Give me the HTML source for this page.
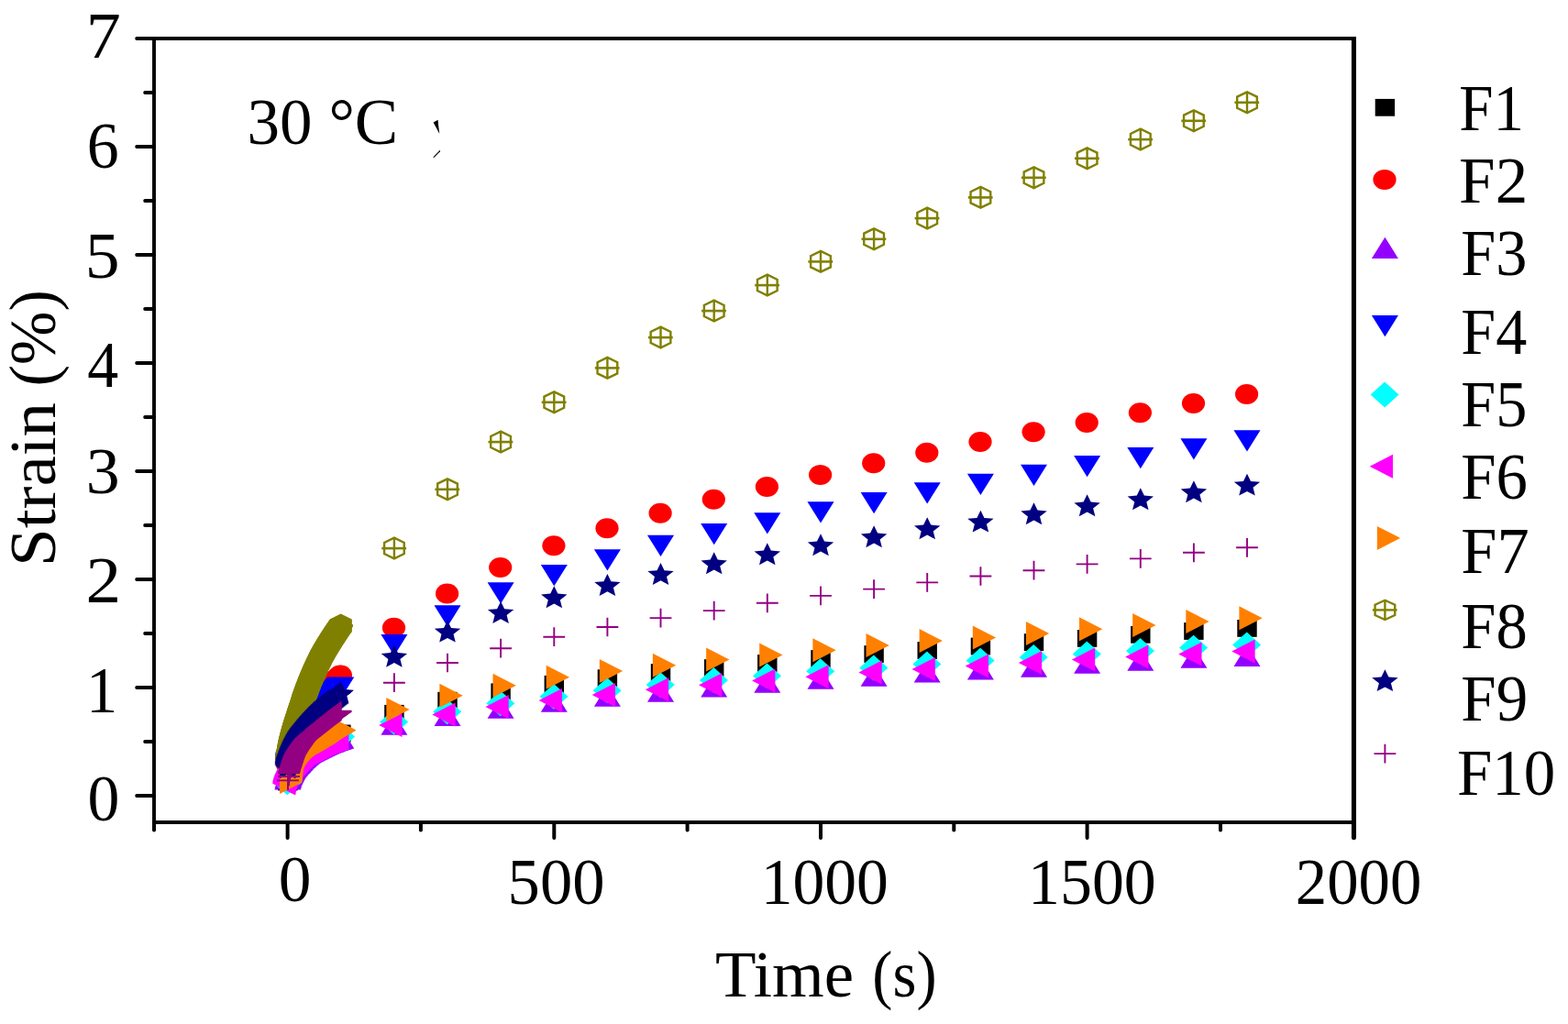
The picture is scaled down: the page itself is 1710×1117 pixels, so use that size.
<!DOCTYPE html>
<html lang="en">
<head>
<meta charset="utf-8">
<title>Strain vs Time at 30 °C</title>
<style>
html,body{margin:0;padding:0;background:#fff;}
body{width:1710px;height:1117px;overflow:hidden;}
svg{display:block;}
</style>
</head>
<body>
<svg width="1710" height="1117" viewBox="0 0 1710 1117" role="img" aria-label="Strain (%) versus Time (s) at 30 °C for samples F1 to F10">
<rect width="1710" height="1117" fill="#ffffff"/>
<defs>
<g id="mF1"><rect x="-10.7" y="-9.4" width="21.4" height="18.8" fill="#000000"/></g>
<g id="mF2"><ellipse cx="-0.4" rx="12.6" ry="11" fill="#ff0000"/></g>
<g id="mF3"><polygon points="-14.5,7.8 14.5,7.8 0,-15.5" fill="#9400ff"/></g>
<g id="mF4"><polygon points="-14.5,-7.6 14.5,-7.6 0,15.6" fill="#0000ff"/></g>
<g id="mF5"><polygon points="-15.8,0 -0.3,-13.9 15.2,0 -0.3,13.9" fill="#00ffff"/></g>
<g id="mF6"><polygon points="-16.7,0 8.6,-13 8.6,13" fill="#ff00ff"/></g>
<g id="mF7"><polygon points="16.7,0 -8.6,-13 -8.6,13" fill="#ff8000"/></g>
<g id="mF8" fill="none" stroke="#808000"><polygon points="0,-11.4 10.85,-6.1 10.85,6.1 0,11.4 -10.85,6.1 -10.85,-6.1" stroke-width="2.4"/><path d="M-13.6,0.1H13.2" stroke-width="2.6"/><path d="M0,-11.5V11.5" stroke-width="2.4"/></g>
<g id="mF9"><polygon points="0.00,-13.20 4.03,-4.91 14.19,-4.08 6.53,1.88 8.77,10.68 0.00,6.07 -8.77,10.68 -6.53,1.88 -14.19,-4.08 -4.03,-4.91" fill="#000080"/></g>
<g id="mF10" fill="none" stroke="#940082" stroke-width="1.9"><path d="M-11.9,0H11.9M0,-10.35V10.35"/></g>
</defs>
<g id="data">
<g id="sF1"><use href="#mF1" x="313.8" y="853.0"/><use href="#mF1" x="313.8" y="852.2"/><use href="#mF1" x="313.8" y="851.1"/><use href="#mF1" x="313.9" y="850.1"/><use href="#mF1" x="313.9" y="849.1"/><use href="#mF1" x="314.0" y="848.2"/><use href="#mF1" x="314.0" y="847.4"/><use href="#mF1" x="314.1" y="846.3"/><use href="#mF1" x="314.1" y="845.5"/><use href="#mF1" x="314.3" y="844.7"/><use href="#mF1" x="314.4" y="843.8"/><use href="#mF1" x="314.6" y="843.0"/><use href="#mF1" x="314.8" y="842.2"/><use href="#mF1" x="315.0" y="841.4"/><use href="#mF1" x="315.3" y="840.7"/><use href="#mF1" x="315.6" y="839.9"/><use href="#mF1" x="316.0" y="839.2"/><use href="#mF1" x="316.3" y="838.4"/><use href="#mF1" x="316.7" y="837.7"/><use href="#mF1" x="317.1" y="837.0"/><use href="#mF1" x="317.5" y="836.3"/><use href="#mF1" x="317.9" y="835.6"/><use href="#mF1" x="318.4" y="834.9"/><use href="#mF1" x="318.9" y="834.3"/><use href="#mF1" x="319.4" y="833.6"/><use href="#mF1" x="319.9" y="833.0"/><use href="#mF1" x="320.5" y="832.4"/><use href="#mF1" x="321.0" y="831.8"/><use href="#mF1" x="321.6" y="831.2"/><use href="#mF1" x="322.1" y="830.7"/><use href="#mF1" x="322.7" y="830.1"/><use href="#mF1" x="323.3" y="829.5"/><use href="#mF1" x="323.9" y="829.0"/><use href="#mF1" x="324.5" y="828.5"/><use href="#mF1" x="325.1" y="828.0"/><use href="#mF1" x="325.8" y="827.4"/><use href="#mF1" x="326.4" y="826.9"/><use href="#mF1" x="327.0" y="826.4"/><use href="#mF1" x="327.7" y="826.0"/><use href="#mF1" x="328.4" y="825.6"/><use href="#mF1" x="329.1" y="825.2"/><use href="#mF1" x="329.8" y="824.8"/><use href="#mF1" x="330.5" y="824.4"/><use href="#mF1" x="331.2" y="824.0"/><use href="#mF1" x="331.9" y="823.6"/><use href="#mF1" x="332.6" y="823.2"/><use href="#mF1" x="333.3" y="822.8"/><use href="#mF1" x="334.0" y="822.4"/><use href="#mF1" x="334.7" y="822.0"/><use href="#mF1" x="335.4" y="821.6"/><use href="#mF1" x="336.1" y="821.2"/><use href="#mF1" x="336.9" y="820.8"/><use href="#mF1" x="337.6" y="820.5"/><use href="#mF1" x="338.3" y="820.1"/><use href="#mF1" x="339.0" y="819.7"/><use href="#mF1" x="339.7" y="819.3"/><use href="#mF1" x="340.3" y="818.8"/><use href="#mF1" x="341.0" y="818.4"/><use href="#mF1" x="341.7" y="817.9"/><use href="#mF1" x="342.4" y="817.5"/><use href="#mF1" x="343.1" y="817.1"/><use href="#mF1" x="343.8" y="816.6"/><use href="#mF1" x="344.4" y="816.2"/><use href="#mF1" x="345.1" y="815.8"/><use href="#mF1" x="345.8" y="815.4"/><use href="#mF1" x="346.5" y="815.0"/><use href="#mF1" x="347.2" y="814.5"/><use href="#mF1" x="347.9" y="814.1"/><use href="#mF1" x="348.6" y="813.7"/><use href="#mF1" x="349.3" y="813.3"/><use href="#mF1" x="350.0" y="812.9"/><use href="#mF1" x="350.7" y="812.5"/><use href="#mF1" x="351.3" y="812.0"/><use href="#mF1" x="352.0" y="811.6"/><use href="#mF1" x="352.7" y="811.1"/><use href="#mF1" x="353.4" y="810.7"/><use href="#mF1" x="354.1" y="810.3"/><use href="#mF1" x="354.8" y="809.9"/><use href="#mF1" x="355.4" y="809.4"/><use href="#mF1" x="356.1" y="809.0"/><use href="#mF1" x="356.8" y="808.6"/><use href="#mF1" x="357.5" y="808.2"/><use href="#mF1" x="358.2" y="807.8"/><use href="#mF1" x="358.9" y="807.3"/><use href="#mF1" x="359.6" y="806.9"/><use href="#mF1" x="360.3" y="806.5"/><use href="#mF1" x="361.0" y="806.1"/><use href="#mF1" x="361.7" y="805.7"/><use href="#mF1" x="362.4" y="805.3"/><use href="#mF1" x="363.1" y="804.9"/><use href="#mF1" x="363.8" y="804.5"/><use href="#mF1" x="364.5" y="804.1"/><use href="#mF1" x="365.2" y="803.7"/><use href="#mF1" x="365.9" y="803.3"/><use href="#mF1" x="366.6" y="802.9"/><use href="#mF1" x="367.3" y="802.5"/><use href="#mF1" x="368.0" y="802.1"/><use href="#mF1" x="368.8" y="801.7"/><use href="#mF1" x="369.5" y="801.4"/><use href="#mF1" x="370.2" y="801.0"/><use href="#mF1" x="370.9" y="800.6"/><use href="#mF1" x="371.6" y="800.2"/><use href="#mF1" x="371.7" y="800.1"/><use href="#mF1" x="429.9" y="778.3"/><use href="#mF1" x="488.0" y="764.2"/><use href="#mF1" x="546.1" y="754.8"/><use href="#mF1" x="604.3" y="746.3"/><use href="#mF1" x="662.4" y="739.7"/><use href="#mF1" x="720.5" y="733.5"/><use href="#mF1" x="778.7" y="728.6"/><use href="#mF1" x="836.8" y="723.5"/><use href="#mF1" x="895.0" y="718.5"/><use href="#mF1" x="953.1" y="713.5"/><use href="#mF1" x="1011.2" y="709.5"/><use href="#mF1" x="1069.4" y="705.0"/><use href="#mF1" x="1127.5" y="700.6"/><use href="#mF1" x="1185.6" y="696.4"/><use href="#mF1" x="1243.8" y="692.3"/><use href="#mF1" x="1301.9" y="688.5"/><use href="#mF1" x="1360.0" y="685.4"/></g>
<g id="sF2"><use href="#mF2" x="314.1" y="834.4"/><use href="#mF2" x="314.2" y="833.5"/><use href="#mF2" x="314.3" y="832.7"/><use href="#mF2" x="314.4" y="831.9"/><use href="#mF2" x="314.6" y="831.1"/><use href="#mF2" x="314.7" y="830.2"/><use href="#mF2" x="314.9" y="829.4"/><use href="#mF2" x="315.1" y="828.6"/><use href="#mF2" x="315.2" y="827.8"/><use href="#mF2" x="315.4" y="827.0"/><use href="#mF2" x="315.6" y="826.2"/><use href="#mF2" x="315.9" y="825.4"/><use href="#mF2" x="316.1" y="824.6"/><use href="#mF2" x="316.3" y="823.8"/><use href="#mF2" x="316.5" y="823.1"/><use href="#mF2" x="316.7" y="822.3"/><use href="#mF2" x="316.9" y="821.5"/><use href="#mF2" x="317.2" y="820.7"/><use href="#mF2" x="317.4" y="819.9"/><use href="#mF2" x="317.6" y="819.1"/><use href="#mF2" x="317.9" y="818.3"/><use href="#mF2" x="318.1" y="817.5"/><use href="#mF2" x="318.4" y="816.7"/><use href="#mF2" x="318.6" y="816.0"/><use href="#mF2" x="318.9" y="815.2"/><use href="#mF2" x="319.2" y="814.4"/><use href="#mF2" x="319.4" y="813.6"/><use href="#mF2" x="319.7" y="812.9"/><use href="#mF2" x="320.0" y="812.1"/><use href="#mF2" x="320.3" y="811.3"/><use href="#mF2" x="320.5" y="810.5"/><use href="#mF2" x="320.8" y="809.7"/><use href="#mF2" x="321.1" y="809.0"/><use href="#mF2" x="321.4" y="808.2"/><use href="#mF2" x="321.7" y="807.4"/><use href="#mF2" x="322.0" y="806.7"/><use href="#mF2" x="322.3" y="805.9"/><use href="#mF2" x="322.6" y="805.1"/><use href="#mF2" x="322.9" y="804.4"/><use href="#mF2" x="323.2" y="803.6"/><use href="#mF2" x="323.6" y="802.9"/><use href="#mF2" x="323.9" y="802.1"/><use href="#mF2" x="324.3" y="801.4"/><use href="#mF2" x="324.6" y="800.6"/><use href="#mF2" x="325.0" y="799.9"/><use href="#mF2" x="325.3" y="799.2"/><use href="#mF2" x="325.7" y="798.4"/><use href="#mF2" x="326.0" y="797.7"/><use href="#mF2" x="326.4" y="797.0"/><use href="#mF2" x="326.8" y="796.3"/><use href="#mF2" x="327.1" y="795.5"/><use href="#mF2" x="327.5" y="794.8"/><use href="#mF2" x="327.9" y="794.1"/><use href="#mF2" x="328.3" y="793.4"/><use href="#mF2" x="328.7" y="792.6"/><use href="#mF2" x="329.0" y="791.9"/><use href="#mF2" x="329.4" y="791.2"/><use href="#mF2" x="329.8" y="790.5"/><use href="#mF2" x="330.2" y="789.7"/><use href="#mF2" x="330.6" y="789.0"/><use href="#mF2" x="330.9" y="788.3"/><use href="#mF2" x="331.3" y="787.6"/><use href="#mF2" x="331.7" y="786.9"/><use href="#mF2" x="332.1" y="786.1"/><use href="#mF2" x="332.5" y="785.4"/><use href="#mF2" x="333.0" y="784.7"/><use href="#mF2" x="333.4" y="784.0"/><use href="#mF2" x="333.8" y="783.3"/><use href="#mF2" x="334.2" y="782.6"/><use href="#mF2" x="334.6" y="781.9"/><use href="#mF2" x="335.1" y="781.3"/><use href="#mF2" x="335.5" y="780.6"/><use href="#mF2" x="335.9" y="779.9"/><use href="#mF2" x="336.4" y="779.2"/><use href="#mF2" x="336.8" y="778.5"/><use href="#mF2" x="337.3" y="777.8"/><use href="#mF2" x="337.7" y="777.2"/><use href="#mF2" x="338.2" y="776.5"/><use href="#mF2" x="338.6" y="775.8"/><use href="#mF2" x="339.1" y="775.1"/><use href="#mF2" x="339.5" y="774.5"/><use href="#mF2" x="340.0" y="773.8"/><use href="#mF2" x="340.5" y="773.1"/><use href="#mF2" x="340.9" y="772.5"/><use href="#mF2" x="341.4" y="771.8"/><use href="#mF2" x="341.9" y="771.1"/><use href="#mF2" x="342.4" y="770.5"/><use href="#mF2" x="342.8" y="769.8"/><use href="#mF2" x="343.3" y="769.1"/><use href="#mF2" x="343.8" y="768.5"/><use href="#mF2" x="344.3" y="767.8"/><use href="#mF2" x="344.7" y="767.2"/><use href="#mF2" x="345.2" y="766.5"/><use href="#mF2" x="345.7" y="765.9"/><use href="#mF2" x="346.2" y="765.2"/><use href="#mF2" x="346.7" y="764.5"/><use href="#mF2" x="347.2" y="763.9"/><use href="#mF2" x="347.7" y="763.3"/><use href="#mF2" x="348.1" y="762.6"/><use href="#mF2" x="348.6" y="762.0"/><use href="#mF2" x="349.1" y="761.3"/><use href="#mF2" x="349.6" y="760.7"/><use href="#mF2" x="350.2" y="760.0"/><use href="#mF2" x="350.7" y="759.4"/><use href="#mF2" x="351.2" y="758.8"/><use href="#mF2" x="351.7" y="758.1"/><use href="#mF2" x="352.2" y="757.5"/><use href="#mF2" x="352.7" y="756.9"/><use href="#mF2" x="353.2" y="756.2"/><use href="#mF2" x="353.7" y="755.6"/><use href="#mF2" x="354.2" y="755.0"/><use href="#mF2" x="354.8" y="754.4"/><use href="#mF2" x="355.3" y="753.7"/><use href="#mF2" x="355.8" y="753.1"/><use href="#mF2" x="356.4" y="752.5"/><use href="#mF2" x="356.9" y="751.9"/><use href="#mF2" x="357.4" y="751.3"/><use href="#mF2" x="358.0" y="750.7"/><use href="#mF2" x="358.5" y="750.1"/><use href="#mF2" x="359.1" y="749.5"/><use href="#mF2" x="359.6" y="748.9"/><use href="#mF2" x="360.2" y="748.3"/><use href="#mF2" x="360.7" y="747.7"/><use href="#mF2" x="361.3" y="747.1"/><use href="#mF2" x="361.8" y="746.6"/><use href="#mF2" x="362.4" y="746.0"/><use href="#mF2" x="363.0" y="745.4"/><use href="#mF2" x="363.5" y="744.8"/><use href="#mF2" x="364.1" y="744.2"/><use href="#mF2" x="364.6" y="743.6"/><use href="#mF2" x="365.2" y="743.0"/><use href="#mF2" x="365.8" y="742.5"/><use href="#mF2" x="366.3" y="741.9"/><use href="#mF2" x="366.9" y="741.3"/><use href="#mF2" x="367.5" y="740.7"/><use href="#mF2" x="368.1" y="740.2"/><use href="#mF2" x="368.6" y="739.6"/><use href="#mF2" x="369.2" y="739.0"/><use href="#mF2" x="369.8" y="738.4"/><use href="#mF2" x="370.4" y="737.9"/><use href="#mF2" x="370.9" y="737.3"/><use href="#mF2" x="371.5" y="736.8"/><use href="#mF2" x="371.7" y="736.5"/><use href="#mF2" x="429.9" y="684.8"/><use href="#mF2" x="488.0" y="647.5"/><use href="#mF2" x="546.1" y="619.0"/><use href="#mF2" x="604.3" y="595.3"/><use href="#mF2" x="662.4" y="576.3"/><use href="#mF2" x="720.5" y="559.7"/><use href="#mF2" x="778.7" y="544.7"/><use href="#mF2" x="836.8" y="531.0"/><use href="#mF2" x="895.0" y="518.0"/><use href="#mF2" x="953.1" y="505.3"/><use href="#mF2" x="1011.2" y="493.7"/><use href="#mF2" x="1069.4" y="482.0"/><use href="#mF2" x="1127.5" y="471.3"/><use href="#mF2" x="1185.6" y="461.0"/><use href="#mF2" x="1243.8" y="450.3"/><use href="#mF2" x="1301.9" y="440.0"/><use href="#mF2" x="1360.0" y="430.0"/></g>
<g id="sF3"><use href="#mF3" x="313.8" y="853.8"/><use href="#mF3" x="314.0" y="853.0"/><use href="#mF3" x="314.2" y="852.2"/><use href="#mF3" x="314.4" y="851.4"/><use href="#mF3" x="314.6" y="850.6"/><use href="#mF3" x="314.9" y="849.9"/><use href="#mF3" x="315.2" y="849.1"/><use href="#mF3" x="315.5" y="848.3"/><use href="#mF3" x="315.9" y="847.6"/><use href="#mF3" x="316.2" y="846.9"/><use href="#mF3" x="316.6" y="846.1"/><use href="#mF3" x="317.0" y="845.4"/><use href="#mF3" x="317.3" y="844.7"/><use href="#mF3" x="317.7" y="844.0"/><use href="#mF3" x="318.1" y="843.2"/><use href="#mF3" x="318.5" y="842.5"/><use href="#mF3" x="318.9" y="841.8"/><use href="#mF3" x="319.3" y="841.1"/><use href="#mF3" x="319.8" y="840.5"/><use href="#mF3" x="320.3" y="839.8"/><use href="#mF3" x="320.8" y="839.2"/><use href="#mF3" x="321.3" y="838.6"/><use href="#mF3" x="321.8" y="837.9"/><use href="#mF3" x="322.4" y="837.3"/><use href="#mF3" x="322.9" y="836.7"/><use href="#mF3" x="323.5" y="836.2"/><use href="#mF3" x="324.0" y="835.6"/><use href="#mF3" x="324.6" y="835.0"/><use href="#mF3" x="325.1" y="834.4"/><use href="#mF3" x="325.6" y="833.8"/><use href="#mF3" x="326.2" y="833.2"/><use href="#mF3" x="326.7" y="832.6"/><use href="#mF3" x="327.3" y="832.0"/><use href="#mF3" x="327.8" y="831.4"/><use href="#mF3" x="328.4" y="830.8"/><use href="#mF3" x="329.0" y="830.3"/><use href="#mF3" x="329.6" y="829.7"/><use href="#mF3" x="330.1" y="829.1"/><use href="#mF3" x="330.8" y="828.6"/><use href="#mF3" x="331.4" y="828.0"/><use href="#mF3" x="332.0" y="827.5"/><use href="#mF3" x="332.6" y="827.0"/><use href="#mF3" x="333.2" y="826.5"/><use href="#mF3" x="333.8" y="826.0"/><use href="#mF3" x="334.5" y="825.4"/><use href="#mF3" x="335.1" y="824.9"/><use href="#mF3" x="335.8" y="824.5"/><use href="#mF3" x="336.5" y="824.1"/><use href="#mF3" x="337.2" y="823.7"/><use href="#mF3" x="337.9" y="823.3"/><use href="#mF3" x="338.6" y="823.0"/><use href="#mF3" x="339.3" y="822.6"/><use href="#mF3" x="340.0" y="822.2"/><use href="#mF3" x="340.8" y="821.8"/><use href="#mF3" x="341.5" y="821.5"/><use href="#mF3" x="342.2" y="821.1"/><use href="#mF3" x="342.9" y="820.7"/><use href="#mF3" x="343.7" y="820.4"/><use href="#mF3" x="344.4" y="820.0"/><use href="#mF3" x="345.1" y="819.7"/><use href="#mF3" x="345.8" y="819.3"/><use href="#mF3" x="346.5" y="819.0"/><use href="#mF3" x="347.3" y="818.6"/><use href="#mF3" x="348.0" y="818.3"/><use href="#mF3" x="348.7" y="817.9"/><use href="#mF3" x="349.4" y="817.5"/><use href="#mF3" x="350.2" y="817.2"/><use href="#mF3" x="350.9" y="816.9"/><use href="#mF3" x="351.6" y="816.5"/><use href="#mF3" x="352.4" y="816.2"/><use href="#mF3" x="353.1" y="815.8"/><use href="#mF3" x="353.8" y="815.5"/><use href="#mF3" x="354.6" y="815.1"/><use href="#mF3" x="355.3" y="814.8"/><use href="#mF3" x="356.0" y="814.5"/><use href="#mF3" x="356.8" y="814.2"/><use href="#mF3" x="357.5" y="813.8"/><use href="#mF3" x="358.3" y="813.5"/><use href="#mF3" x="359.0" y="813.2"/><use href="#mF3" x="359.8" y="812.9"/><use href="#mF3" x="360.5" y="812.7"/><use href="#mF3" x="361.3" y="812.4"/><use href="#mF3" x="362.0" y="812.1"/><use href="#mF3" x="362.8" y="811.8"/><use href="#mF3" x="363.5" y="811.5"/><use href="#mF3" x="364.3" y="811.3"/><use href="#mF3" x="365.0" y="811.0"/><use href="#mF3" x="365.8" y="810.7"/><use href="#mF3" x="366.6" y="810.4"/><use href="#mF3" x="367.3" y="810.2"/><use href="#mF3" x="368.1" y="809.9"/><use href="#mF3" x="368.9" y="809.6"/><use href="#mF3" x="369.6" y="809.4"/><use href="#mF3" x="370.4" y="809.1"/><use href="#mF3" x="371.2" y="808.8"/><use href="#mF3" x="371.7" y="808.6"/><use href="#mF3" x="429.9" y="793.9"/><use href="#mF3" x="488.0" y="784.1"/><use href="#mF3" x="546.1" y="776.0"/><use href="#mF3" x="604.3" y="768.9"/><use href="#mF3" x="662.4" y="762.9"/><use href="#mF3" x="720.5" y="757.9"/><use href="#mF3" x="778.7" y="752.8"/><use href="#mF3" x="836.8" y="747.9"/><use href="#mF3" x="895.0" y="744.0"/><use href="#mF3" x="953.1" y="741.0"/><use href="#mF3" x="1011.2" y="736.8"/><use href="#mF3" x="1069.4" y="733.8"/><use href="#mF3" x="1127.5" y="730.9"/><use href="#mF3" x="1185.6" y="727.0"/><use href="#mF3" x="1243.8" y="724.0"/><use href="#mF3" x="1301.9" y="721.0"/><use href="#mF3" x="1360.0" y="719.1"/></g>
<g id="sF4"><use href="#mF4" x="314.1" y="839.7"/><use href="#mF4" x="314.1" y="838.5"/><use href="#mF4" x="314.2" y="837.4"/><use href="#mF4" x="314.2" y="836.3"/><use href="#mF4" x="314.2" y="835.3"/><use href="#mF4" x="314.3" y="834.3"/><use href="#mF4" x="314.3" y="833.3"/><use href="#mF4" x="314.4" y="832.4"/><use href="#mF4" x="314.4" y="831.5"/><use href="#mF4" x="314.5" y="830.6"/><use href="#mF4" x="314.5" y="829.7"/><use href="#mF4" x="314.6" y="828.9"/><use href="#mF4" x="314.8" y="828.1"/><use href="#mF4" x="315.1" y="827.3"/><use href="#mF4" x="315.4" y="826.6"/><use href="#mF4" x="315.8" y="825.8"/><use href="#mF4" x="316.1" y="825.1"/><use href="#mF4" x="316.5" y="824.4"/><use href="#mF4" x="316.8" y="823.6"/><use href="#mF4" x="317.0" y="822.9"/><use href="#mF4" x="317.3" y="822.1"/><use href="#mF4" x="317.6" y="821.3"/><use href="#mF4" x="317.9" y="820.6"/><use href="#mF4" x="318.2" y="819.8"/><use href="#mF4" x="318.6" y="819.1"/><use href="#mF4" x="318.9" y="818.3"/><use href="#mF4" x="319.3" y="817.6"/><use href="#mF4" x="319.6" y="816.8"/><use href="#mF4" x="319.9" y="816.1"/><use href="#mF4" x="320.2" y="815.3"/><use href="#mF4" x="320.5" y="814.6"/><use href="#mF4" x="320.9" y="813.8"/><use href="#mF4" x="321.2" y="813.1"/><use href="#mF4" x="321.5" y="812.3"/><use href="#mF4" x="321.9" y="811.6"/><use href="#mF4" x="322.3" y="810.8"/><use href="#mF4" x="322.6" y="810.1"/><use href="#mF4" x="323.0" y="809.4"/><use href="#mF4" x="323.3" y="808.7"/><use href="#mF4" x="323.7" y="807.9"/><use href="#mF4" x="324.1" y="807.2"/><use href="#mF4" x="324.4" y="806.5"/><use href="#mF4" x="324.8" y="805.7"/><use href="#mF4" x="325.2" y="805.0"/><use href="#mF4" x="325.5" y="804.3"/><use href="#mF4" x="325.9" y="803.6"/><use href="#mF4" x="326.3" y="802.8"/><use href="#mF4" x="326.7" y="802.1"/><use href="#mF4" x="327.1" y="801.4"/><use href="#mF4" x="327.5" y="800.7"/><use href="#mF4" x="327.9" y="800.0"/><use href="#mF4" x="328.3" y="799.3"/><use href="#mF4" x="328.7" y="798.6"/><use href="#mF4" x="329.1" y="797.9"/><use href="#mF4" x="329.5" y="797.2"/><use href="#mF4" x="329.9" y="796.5"/><use href="#mF4" x="330.4" y="795.8"/><use href="#mF4" x="330.8" y="795.1"/><use href="#mF4" x="331.2" y="794.4"/><use href="#mF4" x="331.6" y="793.7"/><use href="#mF4" x="332.1" y="793.0"/><use href="#mF4" x="332.5" y="792.3"/><use href="#mF4" x="333.0" y="791.6"/><use href="#mF4" x="333.4" y="790.9"/><use href="#mF4" x="333.8" y="790.3"/><use href="#mF4" x="334.3" y="789.6"/><use href="#mF4" x="334.7" y="788.9"/><use href="#mF4" x="335.2" y="788.2"/><use href="#mF4" x="335.6" y="787.5"/><use href="#mF4" x="336.1" y="786.9"/><use href="#mF4" x="336.5" y="786.2"/><use href="#mF4" x="337.0" y="785.5"/><use href="#mF4" x="337.5" y="784.9"/><use href="#mF4" x="337.9" y="784.2"/><use href="#mF4" x="338.4" y="783.5"/><use href="#mF4" x="338.9" y="782.9"/><use href="#mF4" x="339.3" y="782.2"/><use href="#mF4" x="339.8" y="781.5"/><use href="#mF4" x="340.3" y="780.9"/><use href="#mF4" x="340.8" y="780.3"/><use href="#mF4" x="341.3" y="779.6"/><use href="#mF4" x="341.7" y="778.9"/><use href="#mF4" x="342.2" y="778.3"/><use href="#mF4" x="342.7" y="777.6"/><use href="#mF4" x="343.2" y="777.0"/><use href="#mF4" x="343.7" y="776.4"/><use href="#mF4" x="344.2" y="775.7"/><use href="#mF4" x="344.7" y="775.0"/><use href="#mF4" x="345.1" y="774.4"/><use href="#mF4" x="345.6" y="773.8"/><use href="#mF4" x="346.1" y="773.1"/><use href="#mF4" x="346.6" y="772.5"/><use href="#mF4" x="347.1" y="771.8"/><use href="#mF4" x="347.6" y="771.2"/><use href="#mF4" x="348.1" y="770.6"/><use href="#mF4" x="348.6" y="769.9"/><use href="#mF4" x="349.1" y="769.3"/><use href="#mF4" x="349.6" y="768.7"/><use href="#mF4" x="350.2" y="768.0"/><use href="#mF4" x="350.7" y="767.4"/><use href="#mF4" x="351.2" y="766.8"/><use href="#mF4" x="351.7" y="766.2"/><use href="#mF4" x="352.2" y="765.5"/><use href="#mF4" x="352.8" y="764.9"/><use href="#mF4" x="353.3" y="764.3"/><use href="#mF4" x="353.8" y="763.7"/><use href="#mF4" x="354.3" y="763.1"/><use href="#mF4" x="354.9" y="762.5"/><use href="#mF4" x="355.4" y="761.8"/><use href="#mF4" x="356.0" y="761.3"/><use href="#mF4" x="356.5" y="760.7"/><use href="#mF4" x="357.1" y="760.1"/><use href="#mF4" x="357.7" y="759.5"/><use href="#mF4" x="358.2" y="758.9"/><use href="#mF4" x="358.8" y="758.4"/><use href="#mF4" x="359.4" y="757.8"/><use href="#mF4" x="359.9" y="757.2"/><use href="#mF4" x="360.5" y="756.6"/><use href="#mF4" x="361.1" y="756.1"/><use href="#mF4" x="361.7" y="755.5"/><use href="#mF4" x="362.2" y="754.9"/><use href="#mF4" x="362.8" y="754.4"/><use href="#mF4" x="363.4" y="753.8"/><use href="#mF4" x="364.0" y="753.3"/><use href="#mF4" x="364.6" y="752.7"/><use href="#mF4" x="365.2" y="752.1"/><use href="#mF4" x="365.8" y="751.6"/><use href="#mF4" x="366.4" y="751.0"/><use href="#mF4" x="366.9" y="750.5"/><use href="#mF4" x="367.5" y="749.9"/><use href="#mF4" x="368.1" y="749.4"/><use href="#mF4" x="368.7" y="748.8"/><use href="#mF4" x="369.3" y="748.3"/><use href="#mF4" x="369.9" y="747.7"/><use href="#mF4" x="370.5" y="747.2"/><use href="#mF4" x="371.1" y="746.6"/><use href="#mF4" x="371.7" y="746.1"/><use href="#mF4" x="429.9" y="699.6"/><use href="#mF4" x="488.0" y="667.9"/><use href="#mF4" x="546.1" y="642.9"/><use href="#mF4" x="604.3" y="623.6"/><use href="#mF4" x="662.4" y="606.9"/><use href="#mF4" x="720.5" y="591.3"/><use href="#mF4" x="778.7" y="578.6"/><use href="#mF4" x="836.8" y="566.9"/><use href="#mF4" x="895.0" y="554.9"/><use href="#mF4" x="953.1" y="544.6"/><use href="#mF4" x="1011.2" y="533.9"/><use href="#mF4" x="1069.4" y="524.3"/><use href="#mF4" x="1127.5" y="514.3"/><use href="#mF4" x="1185.6" y="504.6"/><use href="#mF4" x="1243.8" y="495.6"/><use href="#mF4" x="1301.9" y="485.9"/><use href="#mF4" x="1360.0" y="476.9"/></g>
<g id="sF5"><use href="#mF5" x="313.6" y="853.4"/><use href="#mF5" x="313.6" y="852.4"/><use href="#mF5" x="313.7" y="851.6"/><use href="#mF5" x="313.8" y="850.8"/><use href="#mF5" x="314.0" y="849.9"/><use href="#mF5" x="314.2" y="849.1"/><use href="#mF5" x="314.4" y="848.3"/><use href="#mF5" x="314.7" y="847.5"/><use href="#mF5" x="315.0" y="846.7"/><use href="#mF5" x="315.2" y="846.0"/><use href="#mF5" x="315.5" y="845.2"/><use href="#mF5" x="315.8" y="844.4"/><use href="#mF5" x="316.1" y="843.7"/><use href="#mF5" x="316.5" y="843.0"/><use href="#mF5" x="316.8" y="842.2"/><use href="#mF5" x="317.2" y="841.5"/><use href="#mF5" x="317.5" y="840.7"/><use href="#mF5" x="317.8" y="840.0"/><use href="#mF5" x="318.2" y="839.3"/><use href="#mF5" x="318.6" y="838.6"/><use href="#mF5" x="319.0" y="837.8"/><use href="#mF5" x="319.4" y="837.2"/><use href="#mF5" x="319.9" y="836.5"/><use href="#mF5" x="320.4" y="835.8"/><use href="#mF5" x="320.9" y="835.2"/><use href="#mF5" x="321.4" y="834.6"/><use href="#mF5" x="321.9" y="833.9"/><use href="#mF5" x="322.5" y="833.3"/><use href="#mF5" x="323.0" y="832.7"/><use href="#mF5" x="323.5" y="832.1"/><use href="#mF5" x="324.1" y="831.5"/><use href="#mF5" x="324.6" y="830.9"/><use href="#mF5" x="325.2" y="830.3"/><use href="#mF5" x="325.7" y="829.7"/><use href="#mF5" x="326.2" y="829.1"/><use href="#mF5" x="326.7" y="828.4"/><use href="#mF5" x="327.3" y="827.8"/><use href="#mF5" x="327.8" y="827.2"/><use href="#mF5" x="328.4" y="826.7"/><use href="#mF5" x="328.9" y="826.1"/><use href="#mF5" x="329.5" y="825.5"/><use href="#mF5" x="330.1" y="824.9"/><use href="#mF5" x="330.7" y="824.4"/><use href="#mF5" x="331.3" y="823.8"/><use href="#mF5" x="331.9" y="823.3"/><use href="#mF5" x="332.5" y="822.8"/><use href="#mF5" x="333.1" y="822.2"/><use href="#mF5" x="333.7" y="821.7"/><use href="#mF5" x="334.3" y="821.2"/><use href="#mF5" x="335.0" y="820.7"/><use href="#mF5" x="335.6" y="820.2"/><use href="#mF5" x="336.3" y="819.8"/><use href="#mF5" x="337.0" y="819.4"/><use href="#mF5" x="337.7" y="819.0"/><use href="#mF5" x="338.4" y="818.6"/><use href="#mF5" x="339.2" y="818.2"/><use href="#mF5" x="339.9" y="817.8"/><use href="#mF5" x="340.6" y="817.5"/><use href="#mF5" x="341.3" y="817.1"/><use href="#mF5" x="342.0" y="816.7"/><use href="#mF5" x="342.7" y="816.3"/><use href="#mF5" x="343.4" y="815.9"/><use href="#mF5" x="344.1" y="815.5"/><use href="#mF5" x="344.8" y="815.1"/><use href="#mF5" x="345.6" y="814.8"/><use href="#mF5" x="346.3" y="814.4"/><use href="#mF5" x="347.0" y="814.0"/><use href="#mF5" x="347.7" y="813.7"/><use href="#mF5" x="348.4" y="813.3"/><use href="#mF5" x="349.1" y="812.9"/><use href="#mF5" x="349.8" y="812.5"/><use href="#mF5" x="350.5" y="812.2"/><use href="#mF5" x="351.3" y="811.8"/><use href="#mF5" x="352.0" y="811.4"/><use href="#mF5" x="352.7" y="811.1"/><use href="#mF5" x="353.5" y="810.7"/><use href="#mF5" x="354.2" y="810.4"/><use href="#mF5" x="354.9" y="810.0"/><use href="#mF5" x="355.6" y="809.7"/><use href="#mF5" x="356.4" y="809.3"/><use href="#mF5" x="357.1" y="809.0"/><use href="#mF5" x="357.8" y="808.6"/><use href="#mF5" x="358.6" y="808.3"/><use href="#mF5" x="359.3" y="808.0"/><use href="#mF5" x="360.1" y="807.7"/><use href="#mF5" x="360.8" y="807.4"/><use href="#mF5" x="361.6" y="807.2"/><use href="#mF5" x="362.3" y="806.9"/><use href="#mF5" x="363.1" y="806.6"/><use href="#mF5" x="363.9" y="806.3"/><use href="#mF5" x="364.6" y="806.0"/><use href="#mF5" x="365.4" y="805.7"/><use href="#mF5" x="366.1" y="805.5"/><use href="#mF5" x="366.9" y="805.2"/><use href="#mF5" x="367.6" y="804.9"/><use href="#mF5" x="368.4" y="804.6"/><use href="#mF5" x="369.1" y="804.4"/><use href="#mF5" x="369.9" y="804.1"/><use href="#mF5" x="370.7" y="803.8"/><use href="#mF5" x="371.4" y="803.6"/><use href="#mF5" x="371.7" y="803.5"/><use href="#mF5" x="429.9" y="787.6"/><use href="#mF5" x="488.0" y="776.3"/><use href="#mF5" x="546.1" y="767.3"/><use href="#mF5" x="604.3" y="759.8"/><use href="#mF5" x="662.4" y="753.2"/><use href="#mF5" x="720.5" y="747.1"/><use href="#mF5" x="778.7" y="742.0"/><use href="#mF5" x="836.8" y="737.3"/><use href="#mF5" x="895.0" y="732.2"/><use href="#mF5" x="953.1" y="728.5"/><use href="#mF5" x="1011.2" y="724.5"/><use href="#mF5" x="1069.4" y="720.6"/><use href="#mF5" x="1127.5" y="716.9"/><use href="#mF5" x="1185.6" y="713.4"/><use href="#mF5" x="1243.8" y="710.0"/><use href="#mF5" x="1301.9" y="706.6"/><use href="#mF5" x="1360.0" y="703.4"/></g>
<g id="sF6"><use href="#mF6" x="313.6" y="854.6"/><use href="#mF6" x="313.6" y="853.7"/><use href="#mF6" x="313.7" y="852.8"/><use href="#mF6" x="313.8" y="852.0"/><use href="#mF6" x="314.0" y="851.2"/><use href="#mF6" x="314.2" y="850.4"/><use href="#mF6" x="314.4" y="849.6"/><use href="#mF6" x="314.7" y="848.8"/><use href="#mF6" x="315.0" y="848.0"/><use href="#mF6" x="315.2" y="847.3"/><use href="#mF6" x="315.5" y="846.5"/><use href="#mF6" x="315.8" y="845.7"/><use href="#mF6" x="316.1" y="845.0"/><use href="#mF6" x="316.5" y="844.3"/><use href="#mF6" x="316.8" y="843.5"/><use href="#mF6" x="317.2" y="842.8"/><use href="#mF6" x="317.5" y="842.0"/><use href="#mF6" x="317.8" y="841.3"/><use href="#mF6" x="318.2" y="840.6"/><use href="#mF6" x="318.6" y="839.9"/><use href="#mF6" x="319.0" y="839.1"/><use href="#mF6" x="319.4" y="838.5"/><use href="#mF6" x="319.9" y="837.8"/><use href="#mF6" x="320.4" y="837.2"/><use href="#mF6" x="320.9" y="836.5"/><use href="#mF6" x="321.4" y="835.9"/><use href="#mF6" x="321.9" y="835.3"/><use href="#mF6" x="322.5" y="834.7"/><use href="#mF6" x="323.0" y="834.1"/><use href="#mF6" x="323.6" y="833.5"/><use href="#mF6" x="324.1" y="832.9"/><use href="#mF6" x="324.7" y="832.3"/><use href="#mF6" x="325.2" y="831.6"/><use href="#mF6" x="325.7" y="831.0"/><use href="#mF6" x="326.2" y="830.4"/><use href="#mF6" x="326.8" y="829.8"/><use href="#mF6" x="327.3" y="829.2"/><use href="#mF6" x="327.9" y="828.6"/><use href="#mF6" x="328.4" y="828.0"/><use href="#mF6" x="329.0" y="827.4"/><use href="#mF6" x="329.6" y="826.8"/><use href="#mF6" x="330.1" y="826.3"/><use href="#mF6" x="330.7" y="825.7"/><use href="#mF6" x="331.3" y="825.2"/><use href="#mF6" x="331.9" y="824.7"/><use href="#mF6" x="332.6" y="824.1"/><use href="#mF6" x="333.2" y="823.6"/><use href="#mF6" x="333.8" y="823.1"/><use href="#mF6" x="334.4" y="822.6"/><use href="#mF6" x="335.0" y="822.1"/><use href="#mF6" x="335.7" y="821.6"/><use href="#mF6" x="336.4" y="821.2"/><use href="#mF6" x="337.1" y="820.8"/><use href="#mF6" x="337.8" y="820.4"/><use href="#mF6" x="338.5" y="820.0"/><use href="#mF6" x="339.2" y="819.6"/><use href="#mF6" x="339.9" y="819.2"/><use href="#mF6" x="340.6" y="818.8"/><use href="#mF6" x="341.3" y="818.5"/><use href="#mF6" x="342.1" y="818.1"/><use href="#mF6" x="342.8" y="817.7"/><use href="#mF6" x="343.5" y="817.3"/><use href="#mF6" x="344.2" y="817.0"/><use href="#mF6" x="344.9" y="816.6"/><use href="#mF6" x="345.6" y="816.2"/><use href="#mF6" x="346.4" y="815.9"/><use href="#mF6" x="347.1" y="815.5"/><use href="#mF6" x="347.8" y="815.1"/><use href="#mF6" x="348.5" y="814.8"/><use href="#mF6" x="349.2" y="814.4"/><use href="#mF6" x="349.9" y="814.0"/><use href="#mF6" x="350.7" y="813.7"/><use href="#mF6" x="351.4" y="813.3"/><use href="#mF6" x="352.1" y="812.9"/><use href="#mF6" x="352.8" y="812.6"/><use href="#mF6" x="353.6" y="812.2"/><use href="#mF6" x="354.3" y="811.8"/><use href="#mF6" x="355.0" y="811.5"/><use href="#mF6" x="355.7" y="811.1"/><use href="#mF6" x="356.5" y="810.8"/><use href="#mF6" x="357.2" y="810.5"/><use href="#mF6" x="357.9" y="810.1"/><use href="#mF6" x="358.7" y="809.8"/><use href="#mF6" x="359.5" y="809.5"/><use href="#mF6" x="360.2" y="809.2"/><use href="#mF6" x="361.0" y="808.9"/><use href="#mF6" x="361.7" y="808.6"/><use href="#mF6" x="362.5" y="808.4"/><use href="#mF6" x="363.2" y="808.1"/><use href="#mF6" x="364.0" y="807.8"/><use href="#mF6" x="364.7" y="807.5"/><use href="#mF6" x="365.5" y="807.2"/><use href="#mF6" x="366.3" y="806.9"/><use href="#mF6" x="367.0" y="806.7"/><use href="#mF6" x="367.8" y="806.4"/><use href="#mF6" x="368.5" y="806.1"/><use href="#mF6" x="369.3" y="805.9"/><use href="#mF6" x="370.0" y="805.6"/><use href="#mF6" x="370.8" y="805.3"/><use href="#mF6" x="371.5" y="805.1"/><use href="#mF6" x="371.7" y="805.0"/><use href="#mF6" x="429.9" y="791.0"/><use href="#mF6" x="488.0" y="779.5"/><use href="#mF6" x="546.1" y="771.0"/><use href="#mF6" x="604.3" y="764.1"/><use href="#mF6" x="662.4" y="758.1"/><use href="#mF6" x="720.5" y="752.2"/><use href="#mF6" x="778.7" y="747.3"/><use href="#mF6" x="836.8" y="742.4"/><use href="#mF6" x="895.0" y="738.3"/><use href="#mF6" x="953.1" y="733.4"/><use href="#mF6" x="1011.2" y="730.0"/><use href="#mF6" x="1069.4" y="726.5"/><use href="#mF6" x="1127.5" y="723.1"/><use href="#mF6" x="1185.6" y="719.6"/><use href="#mF6" x="1243.8" y="716.6"/><use href="#mF6" x="1301.9" y="713.4"/><use href="#mF6" x="1360.0" y="710.5"/></g>
<g id="sF7"><use href="#mF7" x="313.6" y="852.9"/><use href="#mF7" x="313.6" y="851.5"/><use href="#mF7" x="313.6" y="850.4"/><use href="#mF7" x="313.7" y="849.4"/><use href="#mF7" x="313.7" y="848.4"/><use href="#mF7" x="313.8" y="847.4"/><use href="#mF7" x="313.9" y="846.5"/><use href="#mF7" x="313.9" y="845.7"/><use href="#mF7" x="314.0" y="844.8"/><use href="#mF7" x="314.1" y="844.0"/><use href="#mF7" x="314.2" y="843.1"/><use href="#mF7" x="314.3" y="842.3"/><use href="#mF7" x="314.4" y="841.5"/><use href="#mF7" x="314.5" y="840.7"/><use href="#mF7" x="314.7" y="839.9"/><use href="#mF7" x="315.0" y="839.1"/><use href="#mF7" x="315.2" y="838.3"/><use href="#mF7" x="315.5" y="837.6"/><use href="#mF7" x="315.8" y="836.8"/><use href="#mF7" x="316.1" y="836.1"/><use href="#mF7" x="316.5" y="835.3"/><use href="#mF7" x="316.9" y="834.6"/><use href="#mF7" x="317.3" y="833.9"/><use href="#mF7" x="317.7" y="833.2"/><use href="#mF7" x="318.2" y="832.6"/><use href="#mF7" x="318.6" y="831.9"/><use href="#mF7" x="319.1" y="831.2"/><use href="#mF7" x="319.6" y="830.6"/><use href="#mF7" x="320.1" y="830.0"/><use href="#mF7" x="320.7" y="829.4"/><use href="#mF7" x="321.2" y="828.8"/><use href="#mF7" x="321.8" y="828.2"/><use href="#mF7" x="322.3" y="827.6"/><use href="#mF7" x="322.9" y="827.0"/><use href="#mF7" x="323.5" y="826.5"/><use href="#mF7" x="324.1" y="825.9"/><use href="#mF7" x="324.7" y="825.4"/><use href="#mF7" x="325.3" y="824.8"/><use href="#mF7" x="325.9" y="824.3"/><use href="#mF7" x="326.5" y="823.8"/><use href="#mF7" x="327.2" y="823.3"/><use href="#mF7" x="327.8" y="822.8"/><use href="#mF7" x="328.5" y="822.4"/><use href="#mF7" x="329.2" y="822.0"/><use href="#mF7" x="329.9" y="821.6"/><use href="#mF7" x="330.6" y="821.2"/><use href="#mF7" x="331.3" y="820.8"/><use href="#mF7" x="332.0" y="820.4"/><use href="#mF7" x="332.8" y="820.0"/><use href="#mF7" x="333.5" y="819.6"/><use href="#mF7" x="334.2" y="819.3"/><use href="#mF7" x="334.9" y="818.9"/><use href="#mF7" x="335.6" y="818.5"/><use href="#mF7" x="336.3" y="818.1"/><use href="#mF7" x="337.0" y="817.7"/><use href="#mF7" x="337.8" y="817.4"/><use href="#mF7" x="338.5" y="817.0"/><use href="#mF7" x="339.2" y="816.7"/><use href="#mF7" x="339.9" y="816.2"/><use href="#mF7" x="340.5" y="815.8"/><use href="#mF7" x="341.2" y="815.3"/><use href="#mF7" x="341.9" y="814.9"/><use href="#mF7" x="342.6" y="814.4"/><use href="#mF7" x="343.3" y="814.0"/><use href="#mF7" x="344.0" y="813.6"/><use href="#mF7" x="344.6" y="813.1"/><use href="#mF7" x="345.3" y="812.7"/><use href="#mF7" x="346.0" y="812.3"/><use href="#mF7" x="346.7" y="811.9"/><use href="#mF7" x="347.4" y="811.5"/><use href="#mF7" x="348.1" y="811.1"/><use href="#mF7" x="348.8" y="810.7"/><use href="#mF7" x="349.5" y="810.3"/><use href="#mF7" x="350.2" y="809.8"/><use href="#mF7" x="350.8" y="809.3"/><use href="#mF7" x="351.5" y="808.9"/><use href="#mF7" x="352.2" y="808.4"/><use href="#mF7" x="352.8" y="807.9"/><use href="#mF7" x="353.5" y="807.5"/><use href="#mF7" x="354.2" y="807.0"/><use href="#mF7" x="354.8" y="806.6"/><use href="#mF7" x="355.5" y="806.1"/><use href="#mF7" x="356.2" y="805.7"/><use href="#mF7" x="356.8" y="805.2"/><use href="#mF7" x="357.5" y="804.8"/><use href="#mF7" x="358.2" y="804.3"/><use href="#mF7" x="358.9" y="803.9"/><use href="#mF7" x="359.6" y="803.5"/><use href="#mF7" x="360.2" y="803.0"/><use href="#mF7" x="360.9" y="802.6"/><use href="#mF7" x="361.6" y="802.2"/><use href="#mF7" x="362.3" y="801.8"/><use href="#mF7" x="363.0" y="801.4"/><use href="#mF7" x="363.7" y="801.0"/><use href="#mF7" x="364.4" y="800.6"/><use href="#mF7" x="365.1" y="800.2"/><use href="#mF7" x="365.8" y="799.8"/><use href="#mF7" x="366.5" y="799.4"/><use href="#mF7" x="367.2" y="799.0"/><use href="#mF7" x="367.9" y="798.6"/><use href="#mF7" x="368.6" y="798.2"/><use href="#mF7" x="369.4" y="797.8"/><use href="#mF7" x="370.1" y="797.4"/><use href="#mF7" x="370.8" y="797.0"/><use href="#mF7" x="371.5" y="796.6"/><use href="#mF7" x="371.7" y="796.5"/><use href="#mF7" x="429.9" y="774.0"/><use href="#mF7" x="488.0" y="758.8"/><use href="#mF7" x="546.1" y="747.7"/><use href="#mF7" x="604.3" y="738.7"/><use href="#mF7" x="662.4" y="732.1"/><use href="#mF7" x="720.5" y="725.8"/><use href="#mF7" x="778.7" y="719.6"/><use href="#mF7" x="836.8" y="714.4"/><use href="#mF7" x="895.0" y="709.3"/><use href="#mF7" x="953.1" y="704.0"/><use href="#mF7" x="1011.2" y="699.0"/><use href="#mF7" x="1069.4" y="695.5"/><use href="#mF7" x="1127.5" y="691.0"/><use href="#mF7" x="1185.6" y="686.3"/><use href="#mF7" x="1243.8" y="682.0"/><use href="#mF7" x="1301.9" y="678.0"/><use href="#mF7" x="1360.0" y="674.3"/></g>
<g id="sF8"><use href="#mF8" x="313.8" y="829.6"/><use href="#mF8" x="313.8" y="828.8"/><use href="#mF8" x="313.9" y="827.8"/><use href="#mF8" x="314.0" y="827.0"/><use href="#mF8" x="314.1" y="826.0"/><use href="#mF8" x="314.2" y="825.2"/><use href="#mF8" x="314.3" y="824.3"/><use href="#mF8" x="314.4" y="823.5"/><use href="#mF8" x="314.5" y="822.6"/><use href="#mF8" x="314.6" y="821.8"/><use href="#mF8" x="314.7" y="820.9"/><use href="#mF8" x="314.8" y="820.1"/><use href="#mF8" x="315.0" y="819.2"/><use href="#mF8" x="315.1" y="818.4"/><use href="#mF8" x="315.3" y="817.5"/><use href="#mF8" x="315.5" y="816.7"/><use href="#mF8" x="315.6" y="815.9"/><use href="#mF8" x="315.8" y="815.0"/><use href="#mF8" x="315.9" y="814.2"/><use href="#mF8" x="316.0" y="813.4"/><use href="#mF8" x="316.2" y="812.6"/><use href="#mF8" x="316.4" y="811.7"/><use href="#mF8" x="316.5" y="810.9"/><use href="#mF8" x="316.7" y="810.1"/><use href="#mF8" x="316.9" y="809.3"/><use href="#mF8" x="317.0" y="808.5"/><use href="#mF8" x="317.2" y="807.6"/><use href="#mF8" x="317.4" y="806.8"/><use href="#mF8" x="317.6" y="806.0"/><use href="#mF8" x="317.8" y="805.2"/><use href="#mF8" x="318.0" y="804.4"/><use href="#mF8" x="318.2" y="803.6"/><use href="#mF8" x="318.4" y="802.8"/><use href="#mF8" x="318.6" y="802.0"/><use href="#mF8" x="318.8" y="801.2"/><use href="#mF8" x="319.1" y="800.4"/><use href="#mF8" x="319.3" y="799.6"/><use href="#mF8" x="319.5" y="798.8"/><use href="#mF8" x="319.7" y="798.0"/><use href="#mF8" x="320.0" y="797.2"/><use href="#mF8" x="320.2" y="796.4"/><use href="#mF8" x="320.4" y="795.6"/><use href="#mF8" x="320.6" y="794.8"/><use href="#mF8" x="320.9" y="794.0"/><use href="#mF8" x="321.1" y="793.2"/><use href="#mF8" x="321.3" y="792.5"/><use href="#mF8" x="321.6" y="791.6"/><use href="#mF8" x="321.8" y="790.8"/><use href="#mF8" x="322.1" y="790.1"/><use href="#mF8" x="322.3" y="789.3"/><use href="#mF8" x="322.6" y="788.5"/><use href="#mF8" x="322.8" y="787.7"/><use href="#mF8" x="323.1" y="786.9"/><use href="#mF8" x="323.4" y="786.1"/><use href="#mF8" x="323.6" y="785.4"/><use href="#mF8" x="323.9" y="784.6"/><use href="#mF8" x="324.1" y="783.8"/><use href="#mF8" x="324.4" y="783.0"/><use href="#mF8" x="324.6" y="782.2"/><use href="#mF8" x="324.9" y="781.5"/><use href="#mF8" x="325.1" y="780.7"/><use href="#mF8" x="325.4" y="779.9"/><use href="#mF8" x="325.6" y="779.1"/><use href="#mF8" x="325.9" y="778.3"/><use href="#mF8" x="326.1" y="777.5"/><use href="#mF8" x="326.4" y="776.7"/><use href="#mF8" x="326.7" y="776.0"/><use href="#mF8" x="326.9" y="775.2"/><use href="#mF8" x="327.2" y="774.4"/><use href="#mF8" x="327.5" y="773.6"/><use href="#mF8" x="327.7" y="772.9"/><use href="#mF8" x="328.0" y="772.1"/><use href="#mF8" x="328.3" y="771.3"/><use href="#mF8" x="328.6" y="770.5"/><use href="#mF8" x="328.8" y="769.7"/><use href="#mF8" x="329.0" y="768.9"/><use href="#mF8" x="329.2" y="768.2"/><use href="#mF8" x="329.5" y="767.4"/><use href="#mF8" x="329.7" y="766.6"/><use href="#mF8" x="330.0" y="765.8"/><use href="#mF8" x="330.2" y="765.0"/><use href="#mF8" x="330.5" y="764.2"/><use href="#mF8" x="330.7" y="763.4"/><use href="#mF8" x="330.9" y="762.7"/><use href="#mF8" x="331.2" y="761.9"/><use href="#mF8" x="331.5" y="761.1"/><use href="#mF8" x="331.7" y="760.3"/><use href="#mF8" x="332.0" y="759.5"/><use href="#mF8" x="332.3" y="758.8"/><use href="#mF8" x="332.6" y="758.0"/><use href="#mF8" x="332.8" y="757.2"/><use href="#mF8" x="333.1" y="756.5"/><use href="#mF8" x="333.4" y="755.7"/><use href="#mF8" x="333.7" y="754.9"/><use href="#mF8" x="334.0" y="754.1"/><use href="#mF8" x="334.2" y="753.4"/><use href="#mF8" x="334.5" y="752.6"/><use href="#mF8" x="334.8" y="751.8"/><use href="#mF8" x="335.1" y="751.1"/><use href="#mF8" x="335.4" y="750.3"/><use href="#mF8" x="335.7" y="749.5"/><use href="#mF8" x="336.0" y="748.8"/><use href="#mF8" x="336.3" y="748.0"/><use href="#mF8" x="336.6" y="747.2"/><use href="#mF8" x="336.9" y="746.5"/><use href="#mF8" x="337.2" y="745.7"/><use href="#mF8" x="337.5" y="745.0"/><use href="#mF8" x="337.8" y="744.2"/><use href="#mF8" x="338.1" y="743.5"/><use href="#mF8" x="338.4" y="742.7"/><use href="#mF8" x="338.7" y="742.0"/><use href="#mF8" x="339.0" y="741.2"/><use href="#mF8" x="339.4" y="740.4"/><use href="#mF8" x="339.7" y="739.7"/><use href="#mF8" x="340.0" y="738.9"/><use href="#mF8" x="340.3" y="738.2"/><use href="#mF8" x="340.6" y="737.4"/><use href="#mF8" x="341.0" y="736.7"/><use href="#mF8" x="341.3" y="735.9"/><use href="#mF8" x="341.6" y="735.2"/><use href="#mF8" x="341.9" y="734.4"/><use href="#mF8" x="342.3" y="733.7"/><use href="#mF8" x="342.6" y="732.9"/><use href="#mF8" x="342.9" y="732.2"/><use href="#mF8" x="343.3" y="731.4"/><use href="#mF8" x="343.6" y="730.7"/><use href="#mF8" x="343.9" y="729.9"/><use href="#mF8" x="344.3" y="729.2"/><use href="#mF8" x="344.6" y="728.5"/><use href="#mF8" x="344.9" y="727.7"/><use href="#mF8" x="345.3" y="727.0"/><use href="#mF8" x="345.6" y="726.2"/><use href="#mF8" x="346.0" y="725.5"/><use href="#mF8" x="346.3" y="724.7"/><use href="#mF8" x="346.7" y="724.0"/><use href="#mF8" x="347.0" y="723.3"/><use href="#mF8" x="347.4" y="722.5"/><use href="#mF8" x="347.7" y="721.8"/><use href="#mF8" x="348.1" y="721.1"/><use href="#mF8" x="348.4" y="720.3"/><use href="#mF8" x="348.8" y="719.6"/><use href="#mF8" x="349.2" y="718.9"/><use href="#mF8" x="349.5" y="718.1"/><use href="#mF8" x="349.9" y="717.4"/><use href="#mF8" x="350.2" y="716.7"/><use href="#mF8" x="350.6" y="715.9"/><use href="#mF8" x="351.0" y="715.2"/><use href="#mF8" x="351.4" y="714.5"/><use href="#mF8" x="351.8" y="713.8"/><use href="#mF8" x="352.2" y="713.1"/><use href="#mF8" x="352.6" y="712.3"/><use href="#mF8" x="353.0" y="711.6"/><use href="#mF8" x="353.4" y="710.9"/><use href="#mF8" x="353.8" y="710.2"/><use href="#mF8" x="354.2" y="709.5"/><use href="#mF8" x="354.6" y="708.9"/><use href="#mF8" x="355.0" y="708.1"/><use href="#mF8" x="355.5" y="707.4"/><use href="#mF8" x="355.9" y="706.7"/><use href="#mF8" x="356.3" y="706.0"/><use href="#mF8" x="356.7" y="705.3"/><use href="#mF8" x="357.1" y="704.6"/><use href="#mF8" x="357.6" y="703.9"/><use href="#mF8" x="358.0" y="703.2"/><use href="#mF8" x="358.4" y="702.6"/><use href="#mF8" x="358.8" y="701.9"/><use href="#mF8" x="359.3" y="701.2"/><use href="#mF8" x="359.7" y="700.5"/><use href="#mF8" x="360.1" y="699.8"/><use href="#mF8" x="360.6" y="699.1"/><use href="#mF8" x="361.0" y="698.4"/><use href="#mF8" x="361.4" y="697.7"/><use href="#mF8" x="361.9" y="697.0"/><use href="#mF8" x="362.3" y="696.3"/><use href="#mF8" x="362.7" y="695.7"/><use href="#mF8" x="363.2" y="695.0"/><use href="#mF8" x="363.6" y="694.3"/><use href="#mF8" x="364.1" y="693.6"/><use href="#mF8" x="364.5" y="692.9"/><use href="#mF8" x="365.0" y="692.2"/><use href="#mF8" x="365.4" y="691.6"/><use href="#mF8" x="365.9" y="690.9"/><use href="#mF8" x="366.3" y="690.2"/><use href="#mF8" x="366.8" y="689.5"/><use href="#mF8" x="367.2" y="688.9"/><use href="#mF8" x="367.7" y="688.2"/><use href="#mF8" x="368.1" y="687.5"/><use href="#mF8" x="368.6" y="686.8"/><use href="#mF8" x="369.0" y="686.2"/><use href="#mF8" x="369.5" y="685.5"/><use href="#mF8" x="370.0" y="684.8"/><use href="#mF8" x="370.4" y="684.1"/><use href="#mF8" x="370.9" y="683.5"/><use href="#mF8" x="371.4" y="682.8"/><use href="#mF8" x="371.7" y="682.3"/><use href="#mF8" x="429.9" y="598.0"/><use href="#mF8" x="488.0" y="533.7"/><use href="#mF8" x="546.1" y="482.0"/><use href="#mF8" x="604.3" y="438.7"/><use href="#mF8" x="662.4" y="401.3"/><use href="#mF8" x="720.5" y="368.0"/><use href="#mF8" x="778.7" y="339.0"/><use href="#mF8" x="836.8" y="311.0"/><use href="#mF8" x="895.0" y="285.3"/><use href="#mF8" x="953.1" y="260.7"/><use href="#mF8" x="1011.2" y="238.0"/><use href="#mF8" x="1069.4" y="215.3"/><use href="#mF8" x="1127.5" y="193.7"/><use href="#mF8" x="1185.6" y="172.7"/><use href="#mF8" x="1243.8" y="152.0"/><use href="#mF8" x="1301.9" y="131.7"/><use href="#mF8" x="1360.0" y="111.7"/></g>
<g id="sF9"><use href="#mF9" x="313.6" y="838.5"/><use href="#mF9" x="313.6" y="837.6"/><use href="#mF9" x="313.7" y="836.6"/><use href="#mF9" x="313.7" y="835.7"/><use href="#mF9" x="313.8" y="834.9"/><use href="#mF9" x="313.9" y="834.0"/><use href="#mF9" x="314.1" y="833.2"/><use href="#mF9" x="314.2" y="832.4"/><use href="#mF9" x="314.4" y="831.6"/><use href="#mF9" x="314.6" y="830.8"/><use href="#mF9" x="314.8" y="830.0"/><use href="#mF9" x="315.1" y="829.2"/><use href="#mF9" x="315.3" y="828.4"/><use href="#mF9" x="315.6" y="827.7"/><use href="#mF9" x="315.9" y="826.9"/><use href="#mF9" x="316.2" y="826.1"/><use href="#mF9" x="316.6" y="825.3"/><use href="#mF9" x="316.8" y="824.6"/><use href="#mF9" x="317.1" y="823.8"/><use href="#mF9" x="317.3" y="823.0"/><use href="#mF9" x="317.6" y="822.2"/><use href="#mF9" x="317.9" y="821.5"/><use href="#mF9" x="318.2" y="820.7"/><use href="#mF9" x="318.5" y="820.0"/><use href="#mF9" x="318.8" y="819.2"/><use href="#mF9" x="319.2" y="818.4"/><use href="#mF9" x="319.5" y="817.7"/><use href="#mF9" x="319.8" y="817.0"/><use href="#mF9" x="320.1" y="816.2"/><use href="#mF9" x="320.4" y="815.4"/><use href="#mF9" x="320.8" y="814.7"/><use href="#mF9" x="321.1" y="813.9"/><use href="#mF9" x="321.4" y="813.2"/><use href="#mF9" x="321.8" y="812.5"/><use href="#mF9" x="322.1" y="811.7"/><use href="#mF9" x="322.5" y="811.0"/><use href="#mF9" x="322.8" y="810.2"/><use href="#mF9" x="323.2" y="809.5"/><use href="#mF9" x="323.6" y="808.8"/><use href="#mF9" x="324.0" y="808.1"/><use href="#mF9" x="324.3" y="807.4"/><use href="#mF9" x="324.7" y="806.6"/><use href="#mF9" x="325.1" y="805.9"/><use href="#mF9" x="325.5" y="805.2"/><use href="#mF9" x="325.9" y="804.5"/><use href="#mF9" x="326.3" y="803.8"/><use href="#mF9" x="326.7" y="803.1"/><use href="#mF9" x="327.1" y="802.4"/><use href="#mF9" x="327.6" y="801.7"/><use href="#mF9" x="328.0" y="801.0"/><use href="#mF9" x="328.5" y="800.3"/><use href="#mF9" x="328.9" y="799.7"/><use href="#mF9" x="329.4" y="799.0"/><use href="#mF9" x="329.9" y="798.3"/><use href="#mF9" x="330.4" y="797.7"/><use href="#mF9" x="330.9" y="797.1"/><use href="#mF9" x="331.4" y="796.4"/><use href="#mF9" x="331.9" y="795.8"/><use href="#mF9" x="332.5" y="795.2"/><use href="#mF9" x="333.0" y="794.6"/><use href="#mF9" x="333.5" y="793.9"/><use href="#mF9" x="334.0" y="793.3"/><use href="#mF9" x="334.5" y="792.7"/><use href="#mF9" x="335.0" y="792.1"/><use href="#mF9" x="335.5" y="791.4"/><use href="#mF9" x="336.0" y="790.8"/><use href="#mF9" x="336.5" y="790.1"/><use href="#mF9" x="337.1" y="789.5"/><use href="#mF9" x="337.6" y="788.9"/><use href="#mF9" x="338.1" y="788.3"/><use href="#mF9" x="338.6" y="787.6"/><use href="#mF9" x="339.2" y="787.0"/><use href="#mF9" x="339.7" y="786.4"/><use href="#mF9" x="340.2" y="785.8"/><use href="#mF9" x="340.7" y="785.2"/><use href="#mF9" x="341.3" y="784.6"/><use href="#mF9" x="341.8" y="784.0"/><use href="#mF9" x="342.4" y="783.4"/><use href="#mF9" x="342.9" y="782.8"/><use href="#mF9" x="343.4" y="782.2"/><use href="#mF9" x="344.0" y="781.6"/><use href="#mF9" x="344.5" y="781.0"/><use href="#mF9" x="345.1" y="780.4"/><use href="#mF9" x="345.6" y="779.8"/><use href="#mF9" x="346.2" y="779.2"/><use href="#mF9" x="346.8" y="778.6"/><use href="#mF9" x="347.3" y="778.0"/><use href="#mF9" x="347.9" y="777.5"/><use href="#mF9" x="348.5" y="776.9"/><use href="#mF9" x="349.0" y="776.3"/><use href="#mF9" x="349.6" y="775.7"/><use href="#mF9" x="350.2" y="775.2"/><use href="#mF9" x="350.7" y="774.6"/><use href="#mF9" x="351.3" y="774.0"/><use href="#mF9" x="351.9" y="773.4"/><use href="#mF9" x="352.5" y="772.9"/><use href="#mF9" x="353.1" y="772.3"/><use href="#mF9" x="353.6" y="771.8"/><use href="#mF9" x="354.2" y="771.2"/><use href="#mF9" x="354.8" y="770.7"/><use href="#mF9" x="355.4" y="770.1"/><use href="#mF9" x="356.0" y="769.6"/><use href="#mF9" x="356.6" y="769.0"/><use href="#mF9" x="357.2" y="768.5"/><use href="#mF9" x="357.9" y="768.0"/><use href="#mF9" x="358.5" y="767.4"/><use href="#mF9" x="359.1" y="766.9"/><use href="#mF9" x="359.7" y="766.4"/><use href="#mF9" x="360.3" y="765.9"/><use href="#mF9" x="361.0" y="765.4"/><use href="#mF9" x="361.6" y="764.8"/><use href="#mF9" x="362.2" y="764.3"/><use href="#mF9" x="362.8" y="763.8"/><use href="#mF9" x="363.5" y="763.3"/><use href="#mF9" x="364.1" y="762.8"/><use href="#mF9" x="364.7" y="762.3"/><use href="#mF9" x="365.3" y="761.8"/><use href="#mF9" x="366.0" y="761.3"/><use href="#mF9" x="366.6" y="760.8"/><use href="#mF9" x="367.3" y="760.3"/><use href="#mF9" x="367.9" y="759.8"/><use href="#mF9" x="368.5" y="759.3"/><use href="#mF9" x="369.2" y="758.8"/><use href="#mF9" x="369.8" y="758.3"/><use href="#mF9" x="370.5" y="757.8"/><use href="#mF9" x="371.1" y="757.3"/><use href="#mF9" x="371.7" y="756.8"/><use href="#mF9" x="429.9" y="717.0"/><use href="#mF9" x="488.0" y="689.9"/><use href="#mF9" x="546.1" y="669.2"/><use href="#mF9" x="604.3" y="652.5"/><use href="#mF9" x="662.4" y="639.2"/><use href="#mF9" x="720.5" y="627.2"/><use href="#mF9" x="778.7" y="615.5"/><use href="#mF9" x="836.8" y="605.5"/><use href="#mF9" x="895.0" y="595.5"/><use href="#mF9" x="953.1" y="586.5"/><use href="#mF9" x="1011.2" y="577.5"/><use href="#mF9" x="1069.4" y="569.9"/><use href="#mF9" x="1127.5" y="561.5"/><use href="#mF9" x="1185.6" y="552.5"/><use href="#mF9" x="1243.8" y="545.5"/><use href="#mF9" x="1301.9" y="537.5"/><use href="#mF9" x="1360.0" y="529.9"/></g>
<g id="sF10"><use href="#mF10" x="314.0" y="851.4"/><use href="#mF10" x="315.0" y="847.0"/><use href="#mF10" x="315.1" y="843.3"/><use href="#mF10" x="315.3" y="842.5"/><use href="#mF10" x="315.5" y="841.7"/><use href="#mF10" x="315.7" y="840.9"/><use href="#mF10" x="315.9" y="840.1"/><use href="#mF10" x="316.1" y="839.3"/><use href="#mF10" x="316.3" y="838.6"/><use href="#mF10" x="316.6" y="837.8"/><use href="#mF10" x="316.8" y="837.0"/><use href="#mF10" x="317.1" y="836.2"/><use href="#mF10" x="317.3" y="835.4"/><use href="#mF10" x="317.6" y="834.7"/><use href="#mF10" x="317.9" y="833.9"/><use href="#mF10" x="318.1" y="833.1"/><use href="#mF10" x="318.4" y="832.3"/><use href="#mF10" x="318.6" y="831.5"/><use href="#mF10" x="318.8" y="830.7"/><use href="#mF10" x="319.1" y="830.0"/><use href="#mF10" x="319.4" y="829.2"/><use href="#mF10" x="319.6" y="828.4"/><use href="#mF10" x="319.9" y="827.6"/><use href="#mF10" x="320.2" y="826.9"/><use href="#mF10" x="320.5" y="826.1"/><use href="#mF10" x="320.8" y="825.3"/><use href="#mF10" x="321.1" y="824.6"/><use href="#mF10" x="321.4" y="823.8"/><use href="#mF10" x="321.8" y="823.1"/><use href="#mF10" x="322.2" y="822.4"/><use href="#mF10" x="322.6" y="821.7"/><use href="#mF10" x="323.0" y="821.0"/><use href="#mF10" x="323.4" y="820.3"/><use href="#mF10" x="323.8" y="819.6"/><use href="#mF10" x="324.2" y="818.9"/><use href="#mF10" x="324.7" y="818.2"/><use href="#mF10" x="325.1" y="817.5"/><use href="#mF10" x="325.6" y="816.8"/><use href="#mF10" x="326.0" y="816.2"/><use href="#mF10" x="326.5" y="815.5"/><use href="#mF10" x="326.9" y="814.8"/><use href="#mF10" x="327.4" y="814.2"/><use href="#mF10" x="327.9" y="813.5"/><use href="#mF10" x="328.4" y="812.8"/><use href="#mF10" x="328.8" y="812.2"/><use href="#mF10" x="329.3" y="811.5"/><use href="#mF10" x="329.8" y="810.8"/><use href="#mF10" x="330.2" y="810.2"/><use href="#mF10" x="330.7" y="809.5"/><use href="#mF10" x="331.2" y="808.9"/><use href="#mF10" x="331.7" y="808.2"/><use href="#mF10" x="332.2" y="807.6"/><use href="#mF10" x="332.7" y="806.9"/><use href="#mF10" x="333.2" y="806.3"/><use href="#mF10" x="333.7" y="805.7"/><use href="#mF10" x="334.3" y="805.2"/><use href="#mF10" x="335.0" y="804.6"/><use href="#mF10" x="335.6" y="804.1"/><use href="#mF10" x="336.2" y="803.6"/><use href="#mF10" x="336.8" y="803.0"/><use href="#mF10" x="337.4" y="802.5"/><use href="#mF10" x="338.0" y="802.0"/><use href="#mF10" x="338.7" y="801.5"/><use href="#mF10" x="339.3" y="801.0"/><use href="#mF10" x="339.9" y="800.5"/><use href="#mF10" x="340.6" y="800.0"/><use href="#mF10" x="341.2" y="799.5"/><use href="#mF10" x="341.9" y="799.0"/><use href="#mF10" x="342.5" y="798.5"/><use href="#mF10" x="343.1" y="798.0"/><use href="#mF10" x="343.7" y="797.5"/><use href="#mF10" x="344.4" y="796.9"/><use href="#mF10" x="345.0" y="796.4"/><use href="#mF10" x="345.6" y="795.9"/><use href="#mF10" x="346.2" y="795.4"/><use href="#mF10" x="346.8" y="794.9"/><use href="#mF10" x="347.5" y="794.4"/><use href="#mF10" x="348.1" y="793.9"/><use href="#mF10" x="348.8" y="793.4"/><use href="#mF10" x="349.4" y="792.9"/><use href="#mF10" x="350.0" y="792.4"/><use href="#mF10" x="350.7" y="791.9"/><use href="#mF10" x="351.3" y="791.4"/><use href="#mF10" x="352.0" y="790.9"/><use href="#mF10" x="352.6" y="790.4"/><use href="#mF10" x="353.3" y="789.9"/><use href="#mF10" x="353.9" y="789.5"/><use href="#mF10" x="354.5" y="789.0"/><use href="#mF10" x="355.2" y="788.4"/><use href="#mF10" x="355.8" y="787.9"/><use href="#mF10" x="356.4" y="787.4"/><use href="#mF10" x="357.0" y="786.9"/><use href="#mF10" x="357.7" y="786.4"/><use href="#mF10" x="358.3" y="785.9"/><use href="#mF10" x="358.9" y="785.4"/><use href="#mF10" x="359.6" y="784.9"/><use href="#mF10" x="360.2" y="784.4"/><use href="#mF10" x="360.8" y="783.9"/><use href="#mF10" x="361.5" y="783.4"/><use href="#mF10" x="362.1" y="782.9"/><use href="#mF10" x="362.8" y="782.4"/><use href="#mF10" x="363.4" y="781.9"/><use href="#mF10" x="364.0" y="781.4"/><use href="#mF10" x="364.7" y="780.9"/><use href="#mF10" x="365.4" y="780.5"/><use href="#mF10" x="366.0" y="780.0"/><use href="#mF10" x="366.7" y="779.5"/><use href="#mF10" x="367.3" y="779.0"/><use href="#mF10" x="368.0" y="778.5"/><use href="#mF10" x="368.6" y="778.1"/><use href="#mF10" x="369.3" y="777.6"/><use href="#mF10" x="369.9" y="777.1"/><use href="#mF10" x="370.6" y="776.7"/><use href="#mF10" x="371.2" y="776.2"/><use href="#mF10" x="371.7" y="775.8"/><use href="#mF10" x="429.9" y="744.7"/><use href="#mF10" x="488.0" y="723.0"/><use href="#mF10" x="546.1" y="707.2"/><use href="#mF10" x="604.3" y="694.7"/><use href="#mF10" x="662.4" y="684.0"/><use href="#mF10" x="720.5" y="674.1"/><use href="#mF10" x="778.7" y="666.1"/><use href="#mF10" x="836.8" y="657.8"/><use href="#mF10" x="895.0" y="649.9"/><use href="#mF10" x="953.1" y="642.6"/><use href="#mF10" x="1011.2" y="635.4"/><use href="#mF10" x="1069.4" y="628.5"/><use href="#mF10" x="1127.5" y="622.2"/><use href="#mF10" x="1185.6" y="615.4"/><use href="#mF10" x="1243.8" y="609.4"/><use href="#mF10" x="1301.9" y="602.8"/><use href="#mF10" x="1360.0" y="597.3"/></g>
</g>
<g id="axes" stroke="#000" stroke-width="4.0" fill="none" stroke-linecap="butt"><path d="M168.0,40.0V899.0" stroke-width="3.9"/><path d="M166.05,42.0H1479" stroke-width="4.1"/><path d="M166.05,897.0H1479" stroke-width="4.2"/><path d="M1476.45,39.95V899.1" stroke-width="5.1"/><path d="M168.0,868.0H149.2" stroke-linecap="round"/><path d="M168.0,809.0H158.2" stroke-linecap="round"/><path d="M168.0,750.0H149.2" stroke-linecap="round"/><path d="M168.0,691.0H158.2" stroke-linecap="round"/><path d="M168.0,632.0H149.2" stroke-linecap="round"/><path d="M168.0,573.0H158.2" stroke-linecap="round"/><path d="M168.0,514.0H149.2" stroke-linecap="round"/><path d="M168.0,455.0H158.2" stroke-linecap="round"/><path d="M168.0,396.0H149.2" stroke-linecap="round"/><path d="M168.0,337.0H158.2" stroke-linecap="round"/><path d="M168.0,278.0H149.2" stroke-linecap="round"/><path d="M168.0,219.0H158.2" stroke-linecap="round"/><path d="M168.0,160.0H149.2" stroke-linecap="round"/><path d="M168.0,101.0H158.2" stroke-linecap="round"/><path d="M168.0,42.0H149.2" stroke-linecap="round"/><path d="M168.0,897.0V905.5" stroke-linecap="round"/><path d="M313.6,897.0V914" stroke-linecap="round"/><path d="M458.9,897.0V905.5" stroke-linecap="round"/><path d="M604.3,897.0V914" stroke-linecap="round"/><path d="M749.6,897.0V905.5" stroke-linecap="round"/><path d="M895.0,897.0V914" stroke-linecap="round"/><path d="M1040.3,897.0V905.5" stroke-linecap="round"/><path d="M1185.6,897.0V914" stroke-linecap="round"/><path d="M1331.0,897.0V905.5" stroke-linecap="round"/><path d="M1476.45,897.0V913.4" stroke-width="5.1" stroke-linecap="round"/></g>
<g id="labels" font-family="'Liberation Serif', 'DejaVu Serif', serif" fill="#000">
<g id="yticklabels">
<text transform="translate(93.85,63.20) scale(1.0718,1)" font-size="71">7</text>
<text transform="translate(94.80,183.40) scale(0.9843,1)" font-size="71">6</text>
<text transform="translate(92.84,303.20) scale(1.0649,1)" font-size="71">5</text>
<text transform="translate(95.28,422.10) scale(0.9559,1)" font-size="71">4</text>
<text transform="translate(93.68,538.30) scale(1.0396,1)" font-size="71">3</text>
<text transform="translate(93.61,657.10) scale(1.0885,1)" font-size="71">2</text>
<text transform="translate(93.88,776.80) scale(0.9641,1)" font-size="71">1</text>
<text transform="translate(95.56,895.30) scale(0.9826,1)" font-size="71">0</text>
</g>
<g id="xticklabels">
<text transform="translate(303.80,983.40) scale(0.9916,1)" font-size="72">0</text>
<text transform="translate(553.62,986.30) scale(0.9801,1)" font-size="72">500</text>
<text transform="translate(829.68,986.30) scale(0.9671,1)" font-size="72">1000</text>
<text transform="translate(1121.06,986.30) scale(0.9707,1)" font-size="72">1500</text>
<text transform="translate(1412.85,986.30) scale(0.9553,1)" font-size="72">2000</text>
</g>
<text id="xtitle" y="1087.1" font-size="72"><tspan x="779.91" textLength="151.26" lengthAdjust="spacingAndGlyphs">Time</tspan> <tspan x="951.34" textLength="70.22" lengthAdjust="spacingAndGlyphs">(s)</tspan></text>
<text id="ytitle" transform="translate(60.4,0) rotate(-90)" font-size="72"><tspan x="-618.07" textLength="179.10" lengthAdjust="spacingAndGlyphs">Strain</tspan> <tspan x="-421.62" textLength="105.65" lengthAdjust="spacingAndGlyphs">(%)</tspan></text>
<text transform="translate(269.60,157.00) scale(1.0006,1)" font-size="71">30 °C</text>
<g id="legendlabels">
<text transform="translate(1591.22,141.90) scale(0.9441,1)" font-size="71">F1</text>
<text transform="translate(1591.12,220.80) scale(1.0013,1)" font-size="71">F2</text>
<text transform="translate(1593.29,300.30) scale(0.9629,1)" font-size="71">F3</text>
<text transform="translate(1593.30,385.60) scale(0.9592,1)" font-size="71">F4</text>
<text transform="translate(1593.29,464.50) scale(0.9629,1)" font-size="71">F5</text>
<text transform="translate(1593.28,543.60) scale(0.9687,1)" font-size="71">F6</text>
<text transform="translate(1593.24,624.50) scale(0.9925,1)" font-size="71">F7</text>
<text transform="translate(1593.28,706.80) scale(0.9671,1)" font-size="71">F8</text>
<text transform="translate(1593.27,786.00) scale(0.9720,1)" font-size="71">F9</text>
<text transform="translate(1588.98,866.60) scale(0.9715,1)" font-size="71">F10</text>
</g>
</g>
<g id="speck" fill="#000"><polygon points="472.6,133.6 477.6,130.8 478.2,137.5 479.3,146 476.4,140.6"/><polygon points="472.6,171.2 479.9,163.4 479.9,165.2 472.8,172.4"/></g>
<g id="legend"><use href="#mF1" x="1510.4" y="117.3"/><use href="#mF2" x="1510.4" y="195.9"/><use href="#mF3" x="1510.4" y="274.3"/><use href="#mF4" x="1510.4" y="351.7"/><use href="#mF5" x="1510.4" y="430.5"/><use href="#mF6" x="1510.4" y="508.7"/><use href="#mF7" x="1510.4" y="586.9"/><use href="#mF8" transform="translate(1510.4,665.3) scale(1,0.93)"/><use href="#mF9" x="1510.4" y="743.4"/><use href="#mF10" x="1510.4" y="822.1"/></g>
</svg>
</body>
</html>
